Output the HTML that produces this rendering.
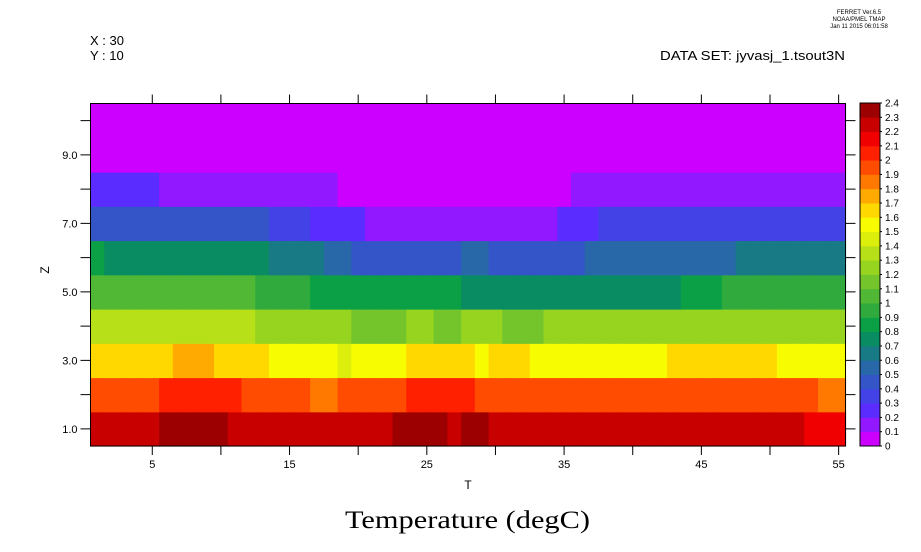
<!DOCTYPE html>
<html><head><meta charset="utf-8"><style>
html,body{margin:0;padding:0;background:#fff;}
svg{display:block;font-family:"Liberation Sans","DejaVu Sans",sans-serif;}
</style></head><body>
<svg id="chart" width="921" height="552" viewBox="0 0 921 552" xmlns="http://www.w3.org/2000/svg">
<g font-size="6" text-anchor="middle" fill="#000">
<text x="859" y="14">FERRET  Ver.6.5</text>
<text x="859" y="21">NOAA/PMEL TMAP</text>
<text x="859" y="28">Jan 11 2015 06:01:58</text>
</g>
<text x="90" y="45" font-size="13">X : 30</text>
<text x="90" y="60" font-size="13">Y : 10</text>
<text x="660" y="60" font-size="13" textLength="185" lengthAdjust="spacingAndGlyphs">DATA SET: jyvasj_1.tsout3N</text>
<g id="cells"></g>
<g id="axes" stroke="#000" stroke-width="1" fill="none"></g>
<g id="labels" font-size="11" fill="#000"></g>
<text x="468" y="489" font-size="12" text-anchor="middle">T</text>
<text x="49" y="270" font-size="12" text-anchor="middle" transform="rotate(-90 49 270)">Z</text>
<text x="345" y="528" font-size="25" textLength="245" lengthAdjust="spacingAndGlyphs" font-family="Liberation Serif, serif">Temperature (degC)</text>
<g id="cbar"></g>
</svg>
<script>
const colors=["#cc00ff","#9218ff","#5a2cff","#4242e6","#3355c8","#2868a8","#177a85","#098c62","#0ca046","#30aa3c","#50b834","#74c42c","#96d420","#b8e018","#dcee0c","#f8fc00","#ffd800","#ffaa00","#ff7800","#ff4c00","#ff2000","#f00000","#c80000","#9c0000"];
const levelLabels=["0","0.1","0.2","0.3","0.4","0.5","0.6","0.7","0.8","0.9","1","1.1","1.2","1.3","1.4","1.5","1.6","1.7","1.8","1.9","2","2.1","2.2","2.3","2.4"];
const xTickLabels=[5,15,25,35,45,55];
const yTickLabels=["1.0","3.0","5.0","7.0","9.0"];
const zValues=[1,2,3,4,5,6,7,8,9,10];
const row1=[2.25,2.25,2.25,2.25,2.25,2.35,2.35,2.35,2.35,2.35,2.25,2.25,2.25,2.25,2.25,2.25,2.25,2.25,2.25,2.25,2.25,2.25,2.35,2.35,2.35,2.35,2.25,2.35,2.35,2.25,2.25,2.25,2.25,2.25,2.25,2.25,2.25,2.25,2.25,2.25,2.25,2.25,2.25,2.25,2.25,2.25,2.25,2.25,2.25,2.25,2.25,2.25,2.15,2.15,2.15];
const row2=[1.95,1.95,1.95,1.95,1.95,2.05,2.05,2.05,2.05,2.05,2.05,1.95,1.95,1.95,1.95,1.95,1.85,1.85,1.95,1.95,1.95,1.95,1.95,2.05,2.05,2.05,2.05,2.05,1.95,1.95,1.95,1.95,1.95,1.95,1.95,1.95,1.95,1.95,1.95,1.95,1.95,1.95,1.95,1.95,1.95,1.95,1.95,1.95,1.95,1.95,1.95,1.95,1.95,1.85,1.85];
const row3=[1.65,1.65,1.65,1.65,1.65,1.65,1.75,1.75,1.75,1.65,1.65,1.65,1.65,1.55,1.55,1.55,1.55,1.55,1.45,1.55,1.55,1.55,1.55,1.65,1.65,1.65,1.65,1.65,1.55,1.65,1.65,1.65,1.55,1.55,1.55,1.55,1.55,1.55,1.55,1.55,1.55,1.55,1.65,1.65,1.65,1.65,1.65,1.65,1.65,1.65,1.55,1.55,1.55,1.55,1.55];
const row4=[1.35,1.35,1.35,1.35,1.35,1.35,1.35,1.35,1.35,1.35,1.35,1.35,1.25,1.25,1.25,1.25,1.25,1.25,1.25,1.15,1.15,1.15,1.15,1.25,1.25,1.15,1.15,1.25,1.25,1.25,1.15,1.15,1.15,1.25,1.25,1.25,1.25,1.25,1.25,1.25,1.25,1.25,1.25,1.25,1.25,1.25,1.25,1.25,1.25,1.25,1.25,1.25,1.25,1.25,1.25];
const row5=[1.05,1.05,1.05,1.05,1.05,1.05,1.05,1.05,1.05,1.05,1.05,1.05,0.95,0.95,0.95,0.95,0.85,0.85,0.85,0.85,0.85,0.85,0.85,0.85,0.85,0.85,0.85,0.75,0.75,0.75,0.75,0.75,0.75,0.75,0.75,0.75,0.75,0.75,0.75,0.75,0.75,0.75,0.75,0.85,0.85,0.85,0.95,0.95,0.95,0.95,0.95,0.95,0.95,0.95,0.95];
const row6=[0.85,0.75,0.75,0.75,0.75,0.75,0.75,0.75,0.75,0.75,0.75,0.75,0.75,0.65,0.65,0.65,0.65,0.55,0.55,0.45,0.45,0.45,0.45,0.45,0.45,0.45,0.45,0.55,0.55,0.45,0.45,0.45,0.45,0.45,0.45,0.45,0.55,0.55,0.55,0.55,0.55,0.55,0.55,0.55,0.55,0.55,0.55,0.65,0.65,0.65,0.65,0.65,0.65,0.65,0.65];
const row7=[0.45,0.45,0.45,0.45,0.45,0.45,0.45,0.45,0.45,0.45,0.45,0.45,0.45,0.35,0.35,0.35,0.25,0.25,0.25,0.25,0.15,0.15,0.15,0.15,0.15,0.15,0.15,0.15,0.15,0.15,0.15,0.15,0.15,0.15,0.25,0.25,0.25,0.35,0.35,0.35,0.35,0.35,0.35,0.35,0.35,0.35,0.35,0.35,0.35,0.35,0.35,0.35,0.35,0.35,0.35];
const row8=[0.25,0.25,0.25,0.25,0.25,0.15,0.15,0.15,0.15,0.15,0.15,0.15,0.15,0.15,0.15,0.15,0.15,0.15,0.05,0.05,0.05,0.05,0.05,0.05,0.05,0.05,0.05,0.05,0.05,0.05,0.05,0.05,0.05,0.05,0.05,0.15,0.15,0.15,0.15,0.15,0.15,0.15,0.15,0.15,0.15,0.15,0.15,0.15,0.15,0.15,0.15,0.15,0.15,0.15,0.15];
const row9=[0.05,0.05,0.05,0.05,0.05,0.05,0.05,0.05,0.05,0.05,0.05,0.05,0.05,0.05,0.05,0.05,0.05,0.05,0.05,0.05,0.05,0.05,0.05,0.05,0.05,0.05,0.05,0.05,0.05,0.05,0.05,0.05,0.05,0.05,0.05,0.05,0.05,0.05,0.05,0.05,0.05,0.05,0.05,0.05,0.05,0.05,0.05,0.05,0.05,0.05,0.05,0.05,0.05,0.05,0.05];
const row10=[0.05,0.05,0.05,0.05,0.05,0.05,0.05,0.05,0.05,0.05,0.05,0.05,0.05,0.05,0.05,0.05,0.05,0.05,0.05,0.05,0.05,0.05,0.05,0.05,0.05,0.05,0.05,0.05,0.05,0.05,0.05,0.05,0.05,0.05,0.05,0.05,0.05,0.05,0.05,0.05,0.05,0.05,0.05,0.05,0.05,0.05,0.05,0.05,0.05,0.05,0.05,0.05,0.05,0.05,0.05];
const rows=[row1,row2,row3,row4,row5,row6,row7,row8,row9,row10];

const NS="http://www.w3.org/2000/svg";
const X0=90.5,X1=845.5,Y0=446,Y1=103.5;
const tMin=0.5,tMax=55.5,zMin=0.5,zMax=10.5;
function xs(t){return X0+(t-tMin)/(tMax-tMin)*(X1-X0);}
function ys(z){return Y0-(z-zMin)/(zMax-zMin)*(Y0-Y1);}
function colorFor(v){let i=Math.floor(v/0.1+1e-9);i=Math.max(0,Math.min(colors.length-1,i));return colors[i];}
function mk(tag,attrs,parent){const e=document.createElementNS(NS,tag);for(const k in attrs)e.setAttribute(k,attrs[k]);parent.appendChild(e);return e;}

const cells=document.getElementById('cells');
rows.forEach((row,ri)=>{
  const z=zValues[ri];
  row.forEach((v,ci)=>{
    const t=ci+1;
    const xa=xs(t-0.5),xb=xs(t+0.5),ya=ys(z+0.5),yb=ys(z-0.5);
    const r=mk('rect',{x:xa,y:ya,width:xb-xa+0.6,height:yb-ya+0.6,fill:colorFor(v)},cells);
    
    
  });
});

const axes=document.getElementById('axes');
const frame=mk('rect',{x:X0,y:Y1,width:X1-X0,height:Y0-Y1},axes);


for(let t=5;t<=55;t+=5){
  const x=xs(t);
  mk('line',{x1:x,y1:Y0,x2:x,y2:Y0+9},axes);
  mk('line',{x1:x,y1:Y1,x2:x,y2:Y1-9},axes);
}
for(let z=1;z<=10;z++){
  const y=ys(z);
  mk('line',{x1:X0,y1:y,x2:X0-10,y2:y},axes);
  mk('line',{x1:X1,y1:y,x2:X1+10,y2:y},axes);
}
const labels=document.getElementById('labels');
xTickLabels.forEach(t=>{
  const e=mk('text',{x:xs(t),y:Y0+22,'text-anchor':'middle'},labels);
  e.textContent=String(t);
  
  
});
yTickLabels.forEach(s=>{
  const e=mk('text',{x:X0-13,y:ys(parseFloat(s))+4,'text-anchor':'end'},labels);
  e.textContent=s;
  
  
});

const cbar=document.getElementById('cbar');
const CX=860,CW=20,CB=446,CT=103,n=colors.length,ch=(CB-CT)/n;
colors.forEach((c,i)=>{
  const r=mk('rect',{x:CX,y:CB-(i+1)*ch,width:CW,height:ch+0.4,fill:c},cbar);
  
  
});
const cf=mk('rect',{x:CX,y:CT,width:CW,height:CB-CT,fill:'none',stroke:'#000'},cbar);


levelLabels.forEach((s,i)=>{
  const y=CB-i*ch;
  mk('line',{x1:CX+CW,y1:y,x2:CX+CW+2,y2:y,stroke:'#000'},cbar);
  const e=mk('text',{x:CX+CW+5,y:y+3.5,'font-size':'10'},cbar);
  e.textContent=s;
  
  
});
</script>
</body></html>
